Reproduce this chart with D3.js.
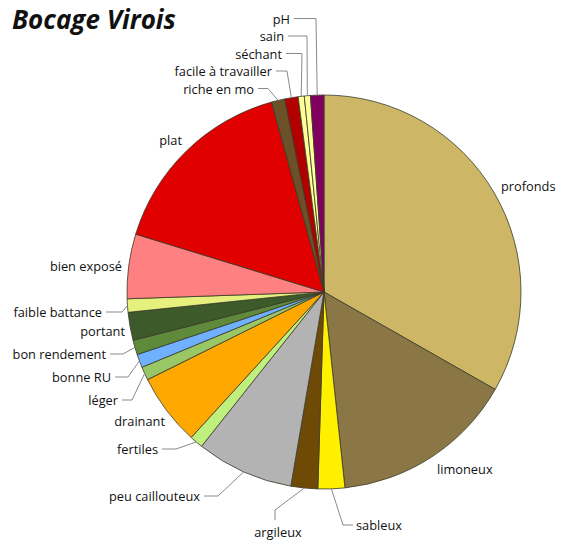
<!DOCTYPE html>
<html><head><meta charset="utf-8">
<script src="https://cdn.jsdelivr.net/npm/d3@7"></script>
<style>
body{margin:0;background:#fff;}
svg{display:block;}
text{font-family:"Open Sans",sans-serif;}
</style></head>
<body><svg id="c" width="561" height="540"></svg>
<script>
const categories = ["profonds","limoneux","sableux","argileux","peu caillouteux","fertiles","drainant","léger","bonne RU","bon rendement","portant","faible battance","bien exposé","plat","riche en mo","facile à travailler","séchant","sain","pH"];
const values = [33.3,15.1,2.2,2.2,8.0,1.1,5.9,1.1,1.1,1.2,2.3,1.1,5.3,16.0,1.1,1.1,0.5,0.5,1.1];
const colors = ["#cdb665","#8b7645","#fff000","#6e4a06","#b3b3b3","#bff07d","#ffa800","#99c766","#6fb0ff","#5f8a3c","#3d5a2a","#e6f07c","#ff8080","#e00000","#6b5028","#b20000","#ffff99","#ffff99","#80005f"];
const title = "Bocage Virois";

// label layout: x, y, anchor, leader elbow x (null = no leader, "v" = vertical leader)
const labelLayout = [
  [501,186,"start",null],
  [437,469,"start",null],
  [356,525,"start",343],
  [278,532,"middle","v"],
  [200,496,"end",218],
  [158,449,"end",176],
  [165,421,"end",null],
  [118,400,"end",132],
  [111,377,"end",128],
  [106,354,"end",123],
  [125,331,"end",null],
  [102,312,"end",122],
  [122,266,"end",null],
  [182,140,"end",null],
  [254,88.5,"end",268],
  [272,71,"end",287],
  [282,53.5,"end",302],
  [284,36,"end",307],
  [290,18.5,"end",316]
];

const cx = 324, cy = 292, R = 197;
const svg = d3.select("#c");
const g = svg.append("g").attr("transform",`translate(${cx},${cy})`);
const pie = d3.pie().sort(null).value(d=>d);
const arcs = pie(values);
const arc = d3.arc().innerRadius(0).outerRadius(R);

g.selectAll("path.s").data(arcs).join("path")
  .attr("class","s")
  .attr("d",arc)
  .attr("fill",(d,i)=>colors[i])
  .attr("stroke","#3a3a2a")
  .attr("stroke-width",0.8)
  .attr("stroke-linejoin","round");

// leaders
arcs.forEach((d,i)=>{
  const L = labelLayout[i];
  if(L[3]===null) return;
  const a = (d.startAngle+d.endAngle)/2;
  const px = cx + R*Math.sin(a), py = cy - R*Math.cos(a);
  let pts;
  if(L[3]==="v"){
    pts = [[L[0]-3, L[1]-12],[L[0]-3, L[1]-22],[px,py]];
  } else {
    const tx = L[2]==="end" ? L[0]+4 : L[0]-3;
    pts = [[tx,L[1]],[L[3],L[1]],[px,py]];
  }
  svg.append("path")
    .attr("d", d3.line()(pts))
    .attr("fill","none")
    .attr("stroke","#8a8a8a")
    .attr("stroke-width",1);
});

svg.selectAll("text.lab").data(categories).join("text")
  .attr("class","lab")
  .attr("x",(d,i)=>labelLayout[i][0])
  .attr("y",(d,i)=>labelLayout[i][1])
  .attr("text-anchor",(d,i)=>labelLayout[i][2])
  .attr("dominant-baseline","central")
  .attr("font-size",12.8)
  .attr("fill","#111")
  .text(d=>d);

svg.append("text")
  .attr("x",12).attr("y",29)
  .attr("font-family","Liberation Sans, Arial, sans-serif")
  .attr("font-weight","bold")
  .attr("font-style","italic")
  .attr("font-size",26)
  .attr("fill","#111")
  .text(title);
</script></body></html>
